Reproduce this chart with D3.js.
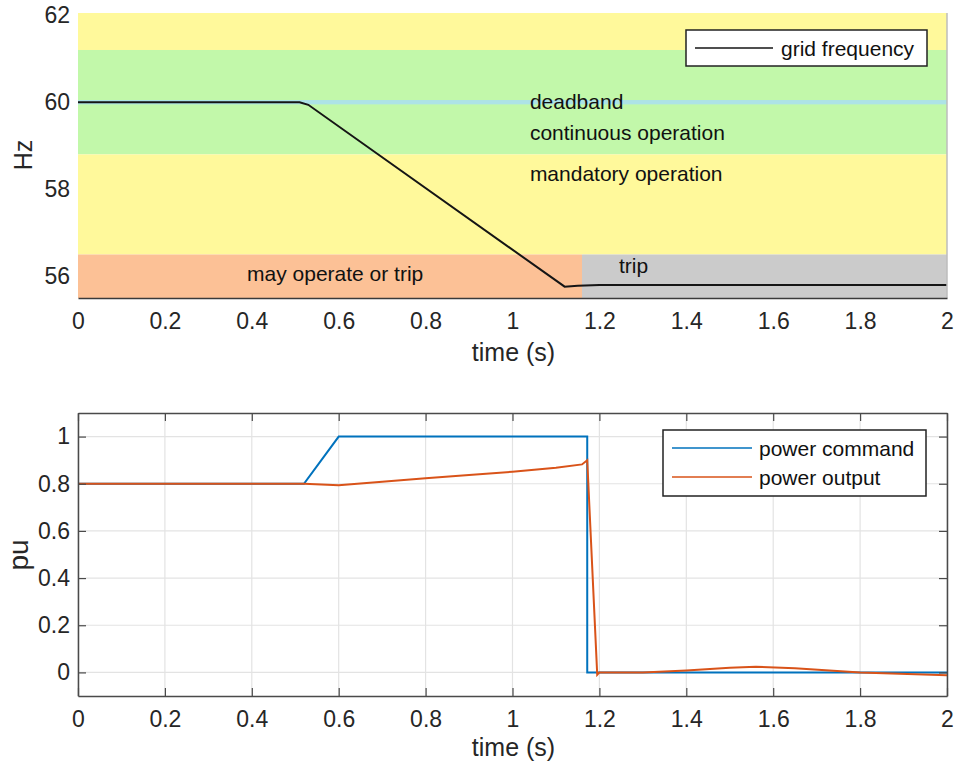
<!DOCTYPE html>
<html>
<head>
<meta charset="utf-8">
<script src="https://cdn.jsdelivr.net/npm/d3@7/dist/d3.min.js"></script>
<style>
  body { margin: 0; background: #fff; }
  svg { display: block; font-family: "Liberation Sans", Arial, sans-serif; }
</style>
</head>
<body>
<svg id="chart" width="956" height="767"></svg>
<script>
// ---------- data ----------
const xTicks = [0, 0.2, 0.4, 0.6, 0.8, 1, 1.2, 1.4, 1.6, 1.8, 2];
const hzTicks = [56, 58, 60, 62];
const puTicks = [0, 0.2, 0.4, 0.6, 0.8, 1];

// frequency bands (Hz ranges, time ranges)
const bandNames = ["upper", "continuous", "deadband", "mandatory", "mayTrip", "trip"];
const bandLow   = [61.2, 58.8, 59.95, 56.5, 55.5, 55.5];
const bandHigh  = [62.05, 61.2, 60.05, 58.8, 56.5, 56.5];
const bandStart = [0, 0, 0, 0, 0, 1.16];
const bandEnd   = [2, 2, 2, 2, 1.16, 2];

const bandLabels = ["deadband", "continuous operation", "mandatory operation", "may operate or trip", "trip"];
const bandLabelT = [1.04, 1.04, 1.04, 0.389, 1.245];
const bandLabelHz = [59.85, 59.13, 58.18, 55.9, 56.08];

// grid frequency
const freqT  = [0, 0.51, 0.53, 1.12, 1.15, 1.2, 2.0];
const freqHz = [60, 60, 59.94, 55.76, 55.78, 55.8, 55.8];

// power command
const cmdT  = [0, 0.52, 0.6, 1.172, 1.172, 2.0];
const cmdPu = [0.8, 0.8, 1.0, 1.0, 0.0, 0.0];

// power output
const outT  = [0, 0.52, 0.6, 0.7, 0.8, 0.9, 1.0, 1.1, 1.16, 1.172, 1.195, 1.2, 1.3, 1.4, 1.5, 1.56, 1.65, 1.8, 2.0];
const outPu = [0.8, 0.8, 0.794, 0.808, 0.823, 0.837, 0.851, 0.868, 0.882, 0.9, -0.01, 0.0, 0.0, 0.008, 0.02, 0.024, 0.018, 0.0, -0.012];

// ---------- styles ----------
const bandColors = {
  upper: "#fff99b", continuous: "#c2f8aa", deadband: "#ade3e6",
  mandatory: "#fff99b", mayTrip: "#fcc196", trip: "#cbcbcb"
};
const axisColor = "#262626";
const tickFont = 23, labelFont = 25, textFont = 21;

const svg = d3.select("#chart");
svg.append("rect").attr("width", 956).attr("height", 767).attr("fill", "#fff");

const x = d3.scaleLinear().domain([0, 2]).range([78, 947]);

// ================= TOP CHART =================
const yTop = d3.scaleLinear().domain([55.5, 62.05]).range([298, 13]);
const gTop = svg.append("g");

bandNames.forEach((name, i) => {
  gTop.append("rect")
    .attr("x", x(bandStart[i]))
    .attr("width", x(bandEnd[i]) - x(bandStart[i]))
    .attr("y", yTop(bandHigh[i]))
    .attr("height", yTop(bandLow[i]) - yTop(bandHigh[i]))
    .attr("fill", bandColors[name]);
});

bandLabels.forEach((lab, i) => {
  gTop.append("text")
    .attr("x", x(bandLabelT[i]))
    .attr("y", yTop(bandLabelHz[i]))
    .attr("font-size", textFont)
    .attr("fill", "#111")
    .text(lab);
});

const freqData = freqT.map((t, i) => [t, freqHz[i]]);
gTop.append("path")
  .datum(freqData)
  .attr("d", d3.line().x(d => x(d[0])).y(d => yTop(d[1])))
  .attr("fill", "none").attr("stroke", "#151515").attr("stroke-width", 2);

// axis lines
gTop.append("line").attr("x1", x(2)).attr("x2", x(2)).attr("y1", 13).attr("y2", 298)
  .attr("stroke", "#bdbdbd").attr("stroke-width", 1.5);
const axTopX = gTop.append("g").attr("transform", "translate(0,298)")
  .call(d3.axisBottom(x).tickValues(xTicks).tickFormat(d3.format("~g")).tickSize(0).tickPadding(15));
axTopX.select(".domain").attr("stroke", "#3a3a3a").attr("stroke-width", 1.5);
axTopX.selectAll("text").attr("font-size", tickFont).attr("fill", axisColor).attr("font-family", "Liberation Sans, Arial, sans-serif");

const axTopY = gTop.append("g").attr("transform", "translate(78,0)")
  .call(d3.axisLeft(yTop).tickValues(hzTicks).tickFormat(d3.format("~g")).tickSize(0).tickPadding(8));
axTopY.select(".domain").remove();
axTopY.selectAll("text").attr("font-size", tickFont).attr("fill", axisColor).attr("font-family", "Liberation Sans, Arial, sans-serif");

gTop.append("text").attr("transform", "translate(32,155) rotate(-90)")
  .attr("text-anchor", "middle").attr("font-size", labelFont).attr("fill", axisColor).text("Hz");
gTop.append("text").attr("x", (x(0) + x(2)) / 2 + 1).attr("y", 361)
  .attr("text-anchor", "middle").attr("font-size", labelFont).attr("fill", axisColor).text("time (s)");

// top legend
const lg1 = gTop.append("g");
lg1.append("rect").attr("x", 686).attr("y", 30).attr("width", 241).attr("height", 36)
  .attr("fill", "#fff").attr("stroke", "#222").attr("stroke-width", 1.5);
lg1.append("line").attr("x1", 695).attr("x2", 773).attr("y1", 48).attr("y2", 48)
  .attr("stroke", "#151515").attr("stroke-width", 1.5);
lg1.append("text").attr("x", 781).attr("y", 56).attr("font-size", textFont).attr("fill", "#111").text("grid frequency");

// ================= BOTTOM CHART =================
const yBot = d3.scaleLinear().domain([-0.1, 1.1]).range([696, 413]);
const gBot = svg.append("g");

// grid
gBot.selectAll(".gx").data(xTicks).enter().append("line")
  .attr("x1", d => x(d)).attr("x2", d => x(d)).attr("y1", 413).attr("y2", 696)
  .attr("stroke", "#e3e3e3").attr("stroke-width", 1.2);
gBot.selectAll(".gy").data(puTicks).enter().append("line")
  .attr("x1", 78).attr("x2", 947).attr("y1", d => yBot(d)).attr("y2", d => yBot(d))
  .attr("stroke", "#e3e3e3").attr("stroke-width", 1.2);

const line = d3.line().x(d => x(d[0])).y(d => yBot(d[1]));
gBot.append("path").datum(cmdT.map((t, i) => [t, cmdPu[i]]))
  .attr("d", line).attr("fill", "none").attr("stroke", "#0072bd").attr("stroke-width", 2);
gBot.append("path").datum(outT.map((t, i) => [t, outPu[i]]))
  .attr("d", line).attr("fill", "none").attr("stroke", "#d95319").attr("stroke-width", 2);

// box with inward ticks
const tk = 8;
const axBX = gBot.append("g").attr("transform", "translate(0,696)")
  .call(d3.axisBottom(x).tickValues(xTicks).tickFormat(d3.format("~g")).tickSizeInner(-tk).tickSizeOuter(0).tickPadding(15));
const axTX = gBot.append("g").attr("transform", "translate(0,413)")
  .call(d3.axisTop(x).tickValues(xTicks).tickFormat("").tickSizeInner(-tk).tickSizeOuter(0));
const axLY = gBot.append("g").attr("transform", "translate(78,0)")
  .call(d3.axisLeft(yBot).tickValues(puTicks).tickFormat(d3.format("~g")).tickSizeInner(-tk).tickSizeOuter(0).tickPadding(8));
const axRY = gBot.append("g").attr("transform", "translate(947,0)")
  .call(d3.axisRight(yBot).tickValues(puTicks).tickFormat("").tickSizeInner(-tk).tickSizeOuter(0));
[axBX, axTX, axLY, axRY].forEach(a => {
  a.select(".domain").attr("stroke", "#4a4a4a").attr("stroke-width", 1.5);
  a.selectAll(".tick line").attr("stroke", "#4a4a4a").attr("stroke-width", 1.2);
  a.selectAll("text").attr("font-size", tickFont).attr("fill", axisColor).attr("font-family", "Liberation Sans, Arial, sans-serif");
});

gBot.append("text").attr("transform", "translate(28,555) rotate(-90)")
  .attr("text-anchor", "middle").attr("font-size", 28).attr("fill", axisColor).text("pu");
gBot.append("text").attr("x", (x(0) + x(2)) / 2 + 1).attr("y", 756)
  .attr("text-anchor", "middle").attr("font-size", labelFont).attr("fill", axisColor).text("time (s)");

// bottom legend
const lg2 = gBot.append("g");
lg2.append("rect").attr("x", 663).attr("y", 430).attr("width", 263).attr("height", 66)
  .attr("fill", "#fff").attr("stroke", "#222").attr("stroke-width", 1.5);
const legNames = ["power command", "power output"];
const legColors = ["#0072bd", "#d95319"];
legNames.forEach((n, i) => {
  lg2.append("line").attr("x1", 672).attr("x2", 752).attr("y1", 448 + i * 29).attr("y2", 448 + i * 29)
    .attr("stroke", legColors[i]).attr("stroke-width", 1.5);
  lg2.append("text").attr("x", 759).attr("y", 456 + i * 29).attr("font-size", textFont).attr("fill", "#111").text(n);
});
</script>
</body>
</html>
